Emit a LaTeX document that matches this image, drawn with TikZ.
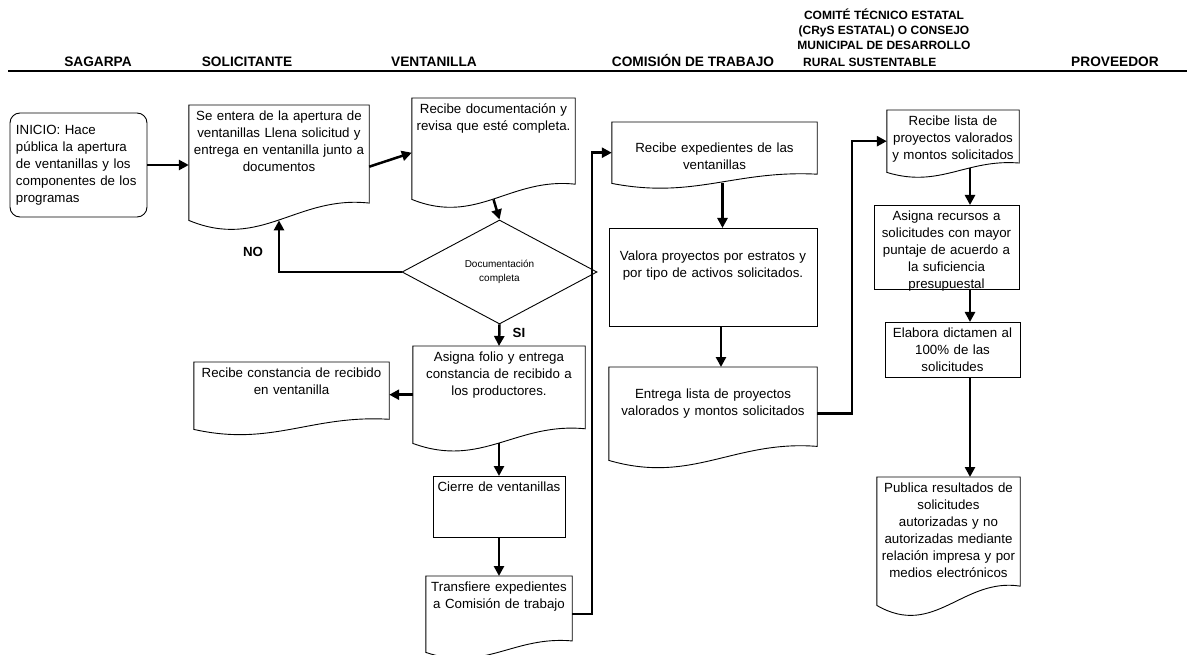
\documentclass[tikz,border=0pt]{standalone}
\usepackage{fontspec}
\setmainfont{Liberation Sans}
\usetikzlibrary{shapes.geometric,calc,arrows.meta}
\newcommand{\boxfont}{\fontsize{13.3}{17}\selectfont}
\newcommand{\headfont}{\fontsize{13.7}{15.3}\selectfont\bfseries}
\newcommand{\lanefont}{\fontsize{12}{15}\selectfont\bfseries}
\newcommand{\diafont}{\fontsize{10}{14.3}\selectfont}
\tikzset{
	boxline/.style={draw=black, line width=0.9pt},
	doc/.style={rectangle, inner sep=2pt, align=center, font=\boxfont, text height=13pt},
	proc/.style={doc, boxline},
	start/.style={rectangle, rounded corners=10pt, boxline, inner xsep=6pt, inner ysep=2pt, align=left, font=\boxfont},
	decision/.style={diamond, boxline, inner sep=0pt, align=center, font=\diafont},
	head/.style={anchor=base, font=\headfont, inner sep=0pt},
	answer/.style={font=\boxfont\bfseries, inner sep=0pt},
	flow/.style={line width=2.5pt, -{Triangle[length=10pt,width=10pt]}}
}
\newcommand{\docoutline}[1]{%
	\draw[boxline] let \p1=(#1.south west), \p2=(#1.north east),
		\n1={\y2-\y1}, \n2={\x2-\x1} in
		(\x1,\y1) -- (\x1,\y2) -- (\x2,\y2) -- (\x2,\y1+0.15*\n1)
		.. controls (\x1+0.6*\n2,\y1+0.22*\n1) and (\x1+0.4*\n2,\y1-0.26*\n1) .. (\x1,\y1) -- cycle;}

\begin{document}
\begin{tikzpicture}[x=1pt, y=-1pt]
	\useasboundingbox (0,0) rectangle (1187,655);

	\node[head] (sagarpa) at (98,67) {SAGARPA};
	\node[head] (solicitante) at (247,67) {SOLICITANTE};
	\node[head] (ventanilla) at (434,67) {VENTANILLA};
	\node[head] (comision) at (693,67) {COMISIÓN DE TRABAJO};
	\node[head, font=\lanefont, align=center] (comite) at (884,50) {COMITÉ TÉCNICO ESTATAL\\(CRyS ESTATAL) O CONSEJO\\MUNICIPAL DE DESARROLLO};
	\node[head, font=\lanefont, anchor=base west] (rural) at (803,67) {RURAL SUSTENTABLE};
	\node[head] (proveedor) at (1115,67) {PROVEEDOR};
	\draw[line width=2.5pt] (8,71) -- (1187,71);

	\node[start, minimum width=137, minimum height=104, text width=125] (inicio) at (78.5,165) {INICIO: Hace\\pública la apertura\\de ventanillas y los\\componentes de los\\programas};

	\node[doc, anchor=north, text width=176, text depth=98] (sol) at (279,105) {Se entera de la apertura de\\ventanillas Llena solicitud y\\entrega en ventanilla junto a\\documentos};
	\docoutline{sol}

	\node[doc, anchor=north, text width=159, text depth=84] (rev) at (493.5,98) {Recibe documentación y\\revisa que esté completa.};
	\docoutline{rev}

	\node[decision, minimum width=195, minimum height=104] (dec) at (499.5,272) {Documentación\\completa};

	\node[doc, anchor=north, text width=168, text depth=80] (asig) at (499,346) {Asigna folio y entrega\\constancia de recibido a\\los productores.};
	\docoutline{asig}

	\node[doc, anchor=north, text width=191, text depth=50] (const) at (291.5,362) {Recibe constancia de recibido\\en ventanilla};
	\docoutline{const}

	\node[proc, anchor=north, text width=128, text depth=44] (cierre) at (499,476) {Cierre de ventanillas};

	\node[doc, anchor=north, text width=142, text depth=59] (trans) at (499,576) {Transfiere expedientes\\a Comisión de trabajo};
	\docoutline{trans}

	\node[doc, anchor=north, text width=201, text height=28pt, text depth=29] (exp) at (714.5,122) {Recibe expedientes de las\\ventanillas};
	\docoutline{exp}

	\node[proc, anchor=north, text width=204, text height=30pt, text depth=64] (val) at (713,228) {Valora proyectos por estratos y\\por tipo de activos solicitados.};

	\node[doc, anchor=north, text width=204, text height=29pt, text depth=60] (ent) at (713,367) {Entrega lista de proyectos\\valorados y montos solicitados};
	\docoutline{ent}

	\node[doc, anchor=north, text width=128, text depth=45] (lista) at (953,110) {Recibe lista de\\proyectos valorados\\y montos solicitados};
	\docoutline{lista}

	\node[proc, anchor=north, text width=141, text depth=67] (recur) at (946.5,205) {Asigna recursos a\\solicitudes con mayor\\puntaje de acuerdo a\\la suficiencia\\presupuestal};

	\node[proc, anchor=north, text width=131, text depth=38] (dict) at (952.5,322) {Elabora dictamen al\\100\% de las\\solicitudes};

	\node[doc, anchor=north, text width=139, text depth=111] (pub) at (948.5,477) {Publica resultados de\\solicitudes\\autorizadas y no\\autorizadas mediante\\relación impresa y por\\medios electrónicos};
	\docoutline{pub}

	\coordinate (col) at (970,0);

	\draw[flow] (inicio.east) -- (inicio.east -| sol.west);
	\draw[flow] ([yshift=-4pt]sol.east) -- ([yshift=-4pt]rev.west);
	\draw[flow] (rev.south) -- (dec.north);
	\draw[flow] (dec.west) -| (sol.south);
	\node[answer] (no) at (253,252) {NO};
	\draw[flow] (dec.south) -- (asig.north);
	\node[answer] (si) at (519,333) {SI};
	\draw[flow] (asig.west) -- (asig.west -| const.east);
	\draw[flow] (asig.south) -- (cierre.north);
	\draw[flow] (cierre.south) -- (trans.north);
	\draw[flow] (trans.east) -- ++(20,0) |- (exp.west);
	\draw[flow] ([xshift=8pt]exp.south) -- ([xshift=8pt]exp.south |- val.north);
	\draw[flow] ([xshift=8pt]val.south) -- ([xshift=8pt]val.south |- ent.north);
	\draw[flow] (ent.east) -- ++(35,0) |- (lista.west);
	\draw[flow] ($(lista.south -| col)+(0,-4)$) -- (recur.north -| col);
	\draw[flow] (recur.south -| col) -- (dict.north -| col);
	\draw[flow] (dict.south -| col) -- (pub.north -| col);
\end{tikzpicture}
\end{document}
